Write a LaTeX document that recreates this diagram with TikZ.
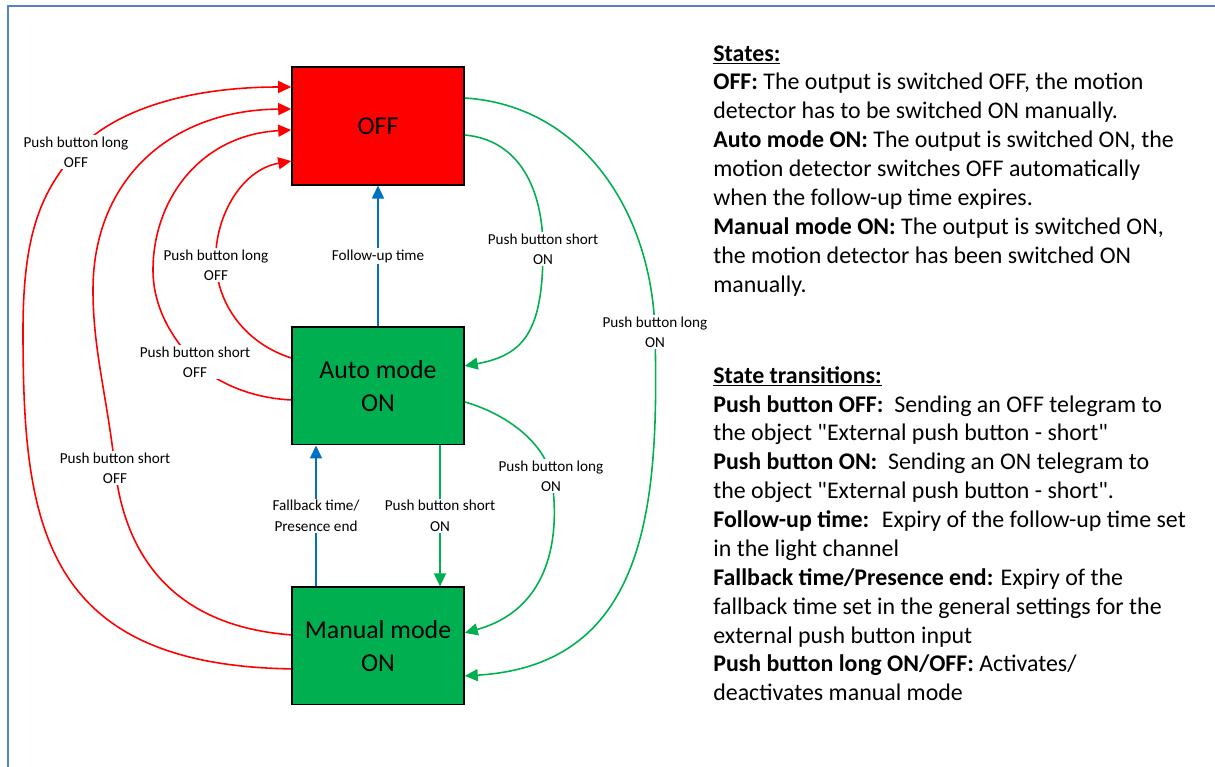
\documentclass[tikz,border=0pt]{standalone}
\usepackage{fontspec}
\setmainfont{Carlito}[Ligatures=TeXOff]
\usetikzlibrary{arrows.meta,calc}

\definecolor{offred}{RGB}{255,0,0}
\definecolor{ongreen}{RGB}{0,176,80}
\definecolor{timeblue}{RGB}{0,112,192}
\definecolor{frameblue}{RGB}{84,130,200}

\begin{document}
\begin{tikzpicture}[x=0.02cm,y=-0.02cm,node distance=5.2cm,
        >={Triangle[length=0.26cm,width=0.24cm]},
        mode/.style={draw=black,line width=0.9pt,minimum width=3.44cm,
          minimum height=2.35cm,inner sep=0pt,align=center,
          font=\fontsize{14.7}{18.8}\selectfont},
        lbl/.style={fill=white,align=center,inner sep=1pt,
          font=\fontsize{8.65}{11.6}\selectfont},
        toff/.style={->,draw=offred,line width=0.9pt},
        ton/.style={->,draw=ongreen,line width=0.9pt},
        ttime/.style={->,draw=timeblue,line width=0.9pt},
        info/.style={anchor=north west,inner sep=0pt,align=left,
          font=\fontsize{13.6}{16.44}\selectfont}]

  \useasboundingbox (0,0) rectangle (1215,767);
  \draw[frameblue,line width=1.1pt] (8,767) -- (8,6) -- (1215,6);

  \node[mode,fill=offred] (off) at (378,126) {OFF};
  \node[mode,fill=ongreen] (auto) [below of=off] {Auto mode\\ON};
  \node[mode,fill=ongreen] (man) [below of=auto] {Manual mode\\ON};

  % switching OFF
  \draw[toff] ($(man.west)+(0,23)$) .. controls (40,665) and (23,520) .. (23,330)
        .. controls (23,230) and (43,190) .. (76,152) node[lbl] {Push button long\\OFF}
        .. controls (109,114) and (180,87) .. ($(off.west)+(0,-39)$);
  \draw[toff] ($(man.west)+(0,-11)$) .. controls (160,625) and (123,540) .. (115,468)
        node[lbl] {Push button short\\OFF}
        .. controls (107,396) and (93,350) .. (93,290)
        .. controls (93,180) and (170,110) .. ($(off.west)+(0,-17)$);
  \draw[toff] ($(auto.west)+(0,14)$) .. controls (250,398) and (215,382) .. (195,362)
        node[lbl] {Push button short\\OFF}
        .. controls (175,342) and (153,310) .. (153,270)
        .. controls (153,200) and (200,135) .. ($(off.west)+(0,4)$);
  \draw[toff] ($(auto.west)+(0,-28)$) .. controls (250,345) and (219,310) .. (216,265)
        node[lbl] {Push button long\\OFF}
        .. controls (213,220) and (240,170) .. ($(off.west)+(0,35)$);

  % switching ON
  \draw[ton] ($(off.east)+(0,-28)$) .. controls (580,105) and (652,210) .. (655,332)
        node[lbl] {Push button long\\ON}
        .. controls (659,500) and (650,665) .. ($(man.east)+(0,30)$);
  \draw[ton] ($(off.east)+(0,9)$) .. controls (520,140) and (543,190) .. (543,249)
        node[lbl] {Push button short\\ON}
        .. controls (543,330) and (525,355) .. ($(auto.east)+(0,-20)$);
  \draw[ton] ($(auto.east)+(0,16)$) .. controls (510,415) and (545,445) .. (551,476)
        node[lbl] {Push button long\\ON}
        .. controls (557,507) and (565,605) .. ($(man.east)+(0,-13)$);
  \draw[ton] ($(auto.south)+(62,0)$) -- node[lbl] {Push button short\\ON}
        ($(man.north)+(62,0)$);

  % timeouts
  \draw[ttime] (auto.north) -- node[lbl] {Follow-up time} (off.south);
  \draw[ttime] ($(man.north)+(-62,0)$) -- node[lbl] {Fallback time/\\Presence end}
        ($(auto.south)+(-62,0)$);

  \node[info] (states) at (713,45) {\underline{\textbf{States:}}\\
    \textbf{OFF:} The output is switched OFF, the motion\\
    detector has to be switched ON manually.\\
    \textbf{Auto mode ON:} The output is switched ON, the\\
    motion detector switches OFF automatically\\
    when the follow-up time expires.\\
    \textbf{Manual mode ON:} The output is switched ON,\\
    the motion detector has been switched ON\\
    manually.};
  \node[info] (trans) at (713,366) {\underline{\textbf{State transitions:}}\\
    \textbf{Push button OFF:}~ Sending an OFF telegram to\\
    the object "External push button - short"\\
    \textbf{Push button ON:}~ Sending an ON telegram to\\
    the object "External push button - short".\\
    \textbf{Follow-up time:}~ Expiry of the follow-up time set\\
    in the light channel\\
    \textbf{Fallback time/Presence end:} Expiry of the\\
    fallback time set in the general settings for the\\
    external push button input\\
    \textbf{Push button long ON/OFF:} Activates/\\
    deactivates manual mode};

\end{tikzpicture}
\end{document}
